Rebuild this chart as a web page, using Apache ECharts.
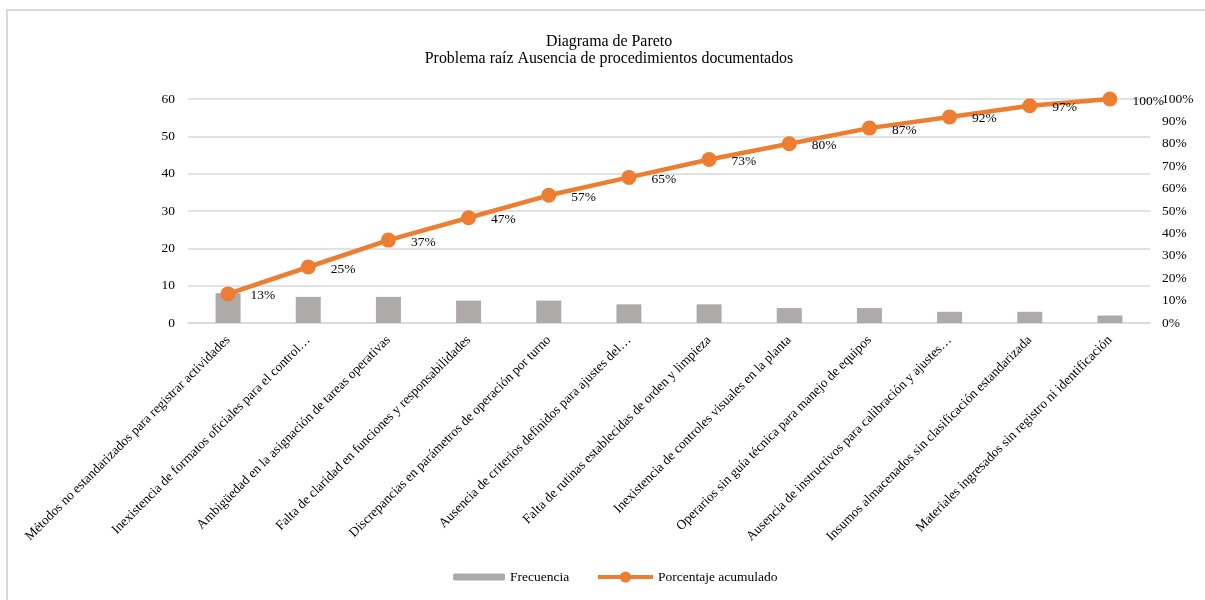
<!DOCTYPE html>
<html>
<head>
<meta charset="utf-8">
<script src="https://cdn.jsdelivr.net/npm/echarts@6/dist/echarts.min.js"></script>
<style>
  html, body { margin: 0; padding: 0; background: #fff; overflow: hidden; }
  #frame { position: absolute; left: 6px; top: 9px; width: 1300px; height: 700px; border: 2px solid #d9d9d9; box-sizing: border-box; }
  #chart { position: absolute; left: 0; top: 0; width: 1205px; height: 600px; }
</style>
</head>
<body>
<div id="frame"></div>
<div id="chart"></div>
<script>
// Causas del problema raíz, ordenadas de mayor a menor frecuencia
const categories = [
  'Métodos no estandarizados para registrar actividades',
  'Inexistencia de formatos oficiales para el control…',
  'Ambigüedad en la asignación de tareas operativas',
  'Falta de claridad en funciones y responsabilidades',
  'Discrepancias en parámetros de operación por turno',
  'Ausencia de criterios definidos para ajustes del…',
  'Falta de rutinas establecidas de orden y limpieza',
  'Inexistencia de controles visuales en la planta',
  'Operarios sin guía técnica para manejo de equipos',
  'Ausencia de instructivos para calibración y ajustes…',
  'Insumos almacenados sin clasificación estandarizada',
  'Materiales ingresados sin registro ni identificación'
];
const frecuencia = [8, 7, 7, 6, 6, 5, 5, 4, 4, 3, 3, 2];
const acumulado = [13, 25, 37, 47, 57, 65, 73, 80, 87, 92, 97, 100];
const leftTicks = [0, 10, 20, 30, 40, 50, 60];

const serif = '"Liberation Serif", "Times New Roman", serif';
const chart = echarts.init(document.getElementById('chart'));
chart.setOption({
  animation: false,
  textStyle: { fontFamily: serif },
  title: {
    text: 'Diagrama de Pareto\nProblema raíz Ausencia de procedimientos documentados',
    left: 604, top: 28, textAlign: 'center',
    textStyle: { fontFamily: serif, fontSize: 15.9, fontWeight: 'normal', color: '#000', lineHeight: 17 }
  },
  legend: [{
    data: ['Frecuencia'], left: 448, top: 565,
    itemWidth: 52, itemHeight: 7, itemGap: 10,
    textStyle: { fontFamily: serif, fontSize: 13.5, color: '#000' }
  }, {
    data: ['Porcentaje acumulado'], left: 591, top: 565,
    itemWidth: 55, itemHeight: 14,
    lineStyle: { width: 4 },
    textStyle: { fontFamily: serif, fontSize: 13.5, color: '#000' }
  }],
  grid: { left: 188, right: 55, top: 99, bottom: 277, containLabel: false },
  xAxis: {
    type: 'category', data: categories,
    axisLine: { lineStyle: { color: '#d9d9d9', width: 1.5 } },
    axisTick: { show: false },
    axisLabel: { interval: 0, rotate: 45, margin: 15, fontFamily: serif, fontSize: 13.4, color: '#000' }
  },
  yAxis: [{
    type: 'value', min: leftTicks[0], max: leftTicks[leftTicks.length - 1], interval: 10,
    axisLine: { show: false }, axisTick: { show: false },
    axisLabel: { fontFamily: serif, fontSize: 13.5, color: '#000', margin: 13 },
    splitLine: { lineStyle: { color: '#d9d9d9', width: 1.5 } }
  }, {
    type: 'value', min: 0, max: 100, interval: 10, position: 'right',
    axisLine: { show: false }, axisTick: { show: false },
    axisLabel: { formatter: '{value}%', fontFamily: serif, fontSize: 13.5, color: '#000', margin: 12 },
    splitLine: { show: false }
  }],
  series: [{
    name: 'Frecuencia', type: 'bar', data: frecuencia, barWidth: 25,
    itemStyle: { color: '#aeaaaa' }
  }, {
    name: 'Porcentaje acumulado', type: 'line', yAxisIndex: 1, data: acumulado,
    symbol: 'circle', symbolSize: 15,
    lineStyle: { color: '#ed7d31', width: 4.5 },
    itemStyle: { color: '#ed7d31' },
    label: {
      show: true, position: 'right', distance: 14, offset: [1, 2],
      formatter: p => p.value + '%',
      fontFamily: serif, fontSize: 13.5, color: '#000'
    }
  }]
});
</script>
</body>
</html>
